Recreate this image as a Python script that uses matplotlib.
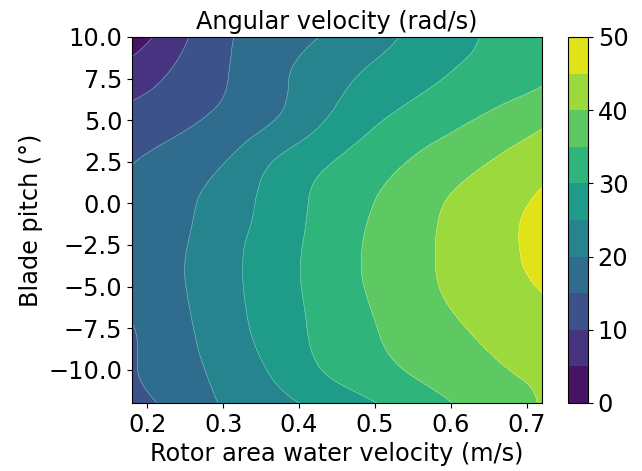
import numpy as np
import matplotlib
matplotlib.use("Agg")
import matplotlib.pyplot as plt
import matplotlib.tri as mtri

# Grid of rotor-area water velocity (m/s) and blade pitch (deg)
velocity = [0.18, 0.24, 0.30, 0.36, 0.42, 0.48, 0.54, 0.60, 0.66, 0.72]
pitch = [-12, -10, -7.5, -5, -2.5, 0, 2.5, 5, 7.5, 10]

# Angular velocity (rad/s), one row per pitch value (bottom to top)
omega_m12 = [13.5, 16.5, 20.4, 23.2, 26.0, 28.9, 31.9, 34.9, 37.6, 40.3]
omega_m10 = [14.6, 17.9, 21.4, 25.2, 29.4, 32.4, 35.1, 37.3, 39.5, 41.0]
omega_m7_5 = [14.8, 18.6, 22.6, 26.7, 30.6, 33.9, 36.7, 39.2, 41.4, 43.4]
omega_m5 = [16.8, 19.4, 23.2, 27.2, 31.1, 34.7, 37.8, 40.7, 43.0, 45.3]
omega_m2_5 = [16.8, 19.3, 23.0, 27.1, 31.0, 34.8, 38.0, 40.9, 43.4, 47.0]
omega_0 = [16.5, 18.8, 22.1, 26.3, 30.5, 34.0, 37.3, 40.4, 42.9, 46.0]
omega_2_5 = [14.8, 17.2, 19.8, 24.6, 28.6, 31.9, 34.9, 37.7, 40.4, 43.0]
omega_5 = [11.7, 13.7, 16.2, 19.5, 23.8, 28.2, 31.4, 33.8, 36.4, 39.0]
omega_7_5 = [7.7, 11.1, 14.6, 18.4, 22.0, 25.3, 27.9, 30.4, 32.3, 34.3]
omega_10 = [2.2, 8.4, 14.1, 17.1, 19.7, 22.5, 25.4, 28.4, 30.9, 33.0]

levels = list(range(0, 55, 5))
cbar_ticks = [0, 10, 20, 30, 40, 50]

Z = np.array([omega_m12, omega_m10, omega_m7_5, omega_m5, omega_m2_5,
              omega_0, omega_2_5, omega_5, omega_7_5, omega_10])
X, Y = np.meshgrid(velocity, pitch)

# smooth rendering of the grid with matplotlib's cubic triangulation refiner
# (normalised coordinates keep the triangulation well conditioned)
xs = (X.ravel() - 0.18) / 0.54
ys = (Y.ravel() + 12) / 22.0
tri = mtri.Triangulation(xs, ys)
refiner = mtri.UniformTriRefiner(tri)
tri_r, z_r = refiner.refine_field(Z.ravel(), subdiv=3)
tri_plot = mtri.Triangulation(tri_r.x * 0.54 + 0.18, tri_r.y * 22.0 - 12,
                              tri_r.triangles)

FS = 17.3
fig = plt.figure(figsize=(6.42, 4.71), dpi=100)
ax = fig.add_axes([132/642, 68/471, 410/642, 366/471])
cax = fig.add_axes([568/642, 68/471, 20/642, 366/471])

cf = ax.tricontourf(tri_plot, z_r, levels=levels, cmap="viridis", vmin=0, vmax=50)
ax.tricontour(tri_plot, z_r, levels=levels, colors="white", linewidths=0.4, alpha=0.45)
ax.set_xlim(0.18, 0.72)
ax.set_ylim(-12, 10)
ax.set_xticks([0.2, 0.3, 0.4, 0.5, 0.6, 0.7])
ax.set_yticks([-10, -7.5, -5, -2.5, 0, 2.5, 5, 7.5, 10])
ax.tick_params(labelsize=FS)
ax.set_xlabel("Rotor area water velocity (m/s)", fontsize=FS)
ax.set_ylabel("Blade pitch (°)", fontsize=FS)
ax.set_title("Angular velocity (rad/s)", fontsize=FS)

cb = fig.colorbar(cf, cax=cax, ticks=cbar_ticks)
cb.ax.tick_params(labelsize=FS)

fig.savefig("out.png", dpi=100)
